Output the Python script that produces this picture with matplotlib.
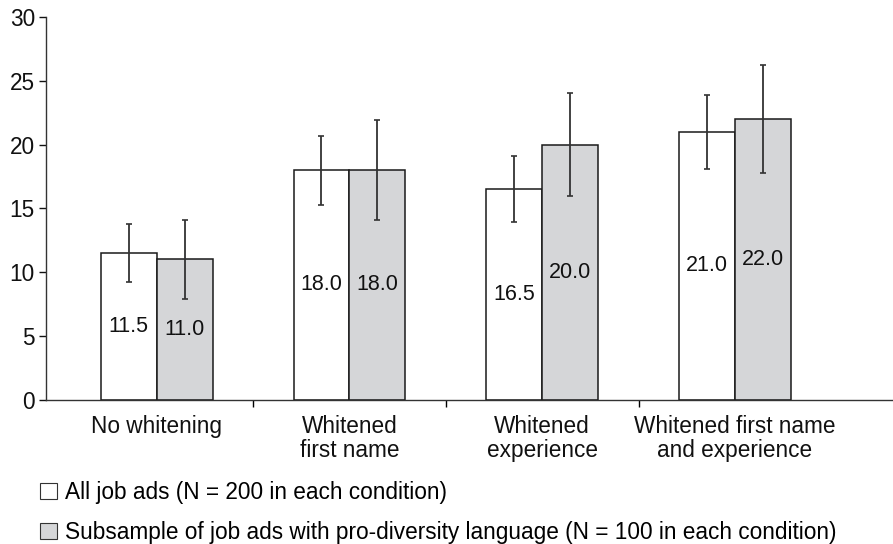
import matplotlib
matplotlib.use("Agg")
import matplotlib.pyplot as plt
from matplotlib.patches import Patch
import numpy as np

categories = ["No whitening", "Whitened\nfirst name", "Whitened\nexperience",
              "Whitened first name\nand experience"]
all_ads = [11.5, 18.0, 16.5, 21.0]
all_ads_err = [2.3, 2.7, 2.6, 2.9]
pro_div = [11.0, 18.0, 20.0, 22.0]
pro_div_err = [3.1, 3.9, 4.0, 4.2]
legend_labels = ["All job ads (N = 200 in each condition)",
                 "Subsample of job ads with pro-diversity language (N = 100 in each condition)"]

plt.rcParams['font.family'] = ['Liberation Sans', 'DejaVu Sans']

white = "#ffffff"
grey = "#d5d6d8"
edge = "#1a1a1a"
fs = 16.3

fig = plt.figure(figsize=(8.93, 5.44), dpi=100)
ax = fig.add_axes([0.0515, 0.265, 0.9485, 0.704])

x = np.arange(len(categories))
w = 0.29
err_kw = dict(ecolor="#333333", elinewidth=1.3, capsize=2.5, capthick=1.2)
b1 = ax.bar(x - w / 2, all_ads, w, yerr=all_ads_err, color=white,
            edgecolor=edge, linewidth=1.1, error_kw=err_kw)
b2 = ax.bar(x + w / 2, pro_div, w, yerr=pro_div_err, color=grey,
            edgecolor=edge, linewidth=1.1, error_kw=err_kw)

# value labels at half bar height
for bars, vals in ((b1, all_ads), (b2, pro_div)):
    for rect, v in zip(bars, vals):
        ax.text(rect.get_x() + rect.get_width() / 2, v / 2, f"{v:.1f}",
                ha="center", va="center", fontsize=15.5, color="#111111")

ax.set_xlim(-0.574, 3.82)
ax.set_ylim(0, 30)
ax.set_yticks(range(0, 31, 5))
ax.tick_params(axis="y", labelsize=fs, length=5, width=1, pad=3,
               colors="#111111")

ax.set_xticks(x)
ax.set_xticklabels(categories, fontsize=fs, color="#111111", linespacing=1.05)
ax.tick_params(axis="x", which="major", length=0, pad=11)
ax.set_xticks([0.5, 1.5, 2.5], minor=True)
ax.tick_params(axis="x", which="minor", length=5, width=1, direction="out")

for s in ("top", "right"):
    ax.spines[s].set_visible(False)
for s in ("left", "bottom"):
    ax.spines[s].set_linewidth(1.0)
    ax.spines[s].set_color("#333333")

handles = [Patch(facecolor=white, edgecolor="#333333", linewidth=0.8),
           Patch(facecolor=grey, edgecolor="#333333", linewidth=0.8)]
fig.legend(handles, legend_labels, loc="upper left", bbox_to_anchor=(0.0448, 0.116),
           frameon=False, fontsize=fs, handlelength=0.75, handleheight=0.75,
           handletextpad=0.35, labelspacing=0.75, borderaxespad=0, borderpad=0)

fig.savefig("out.png", dpi=100)
